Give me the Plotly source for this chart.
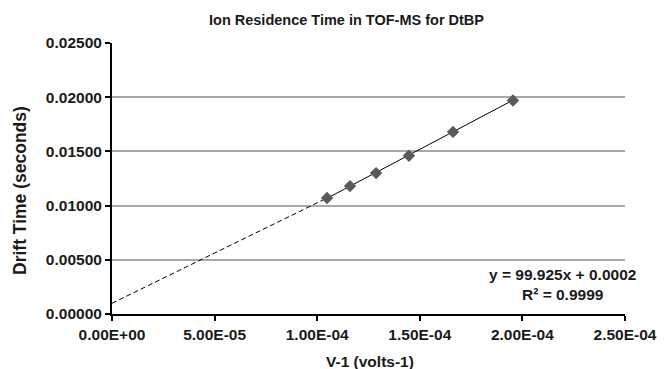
import plotly.graph_objects as go

# Data
inv_volts = [1.048e-4, 1.160e-4, 1.287e-4, 1.447e-4, 1.662e-4, 1.954e-4]
drift_time = [0.0107, 0.0118, 0.0130, 0.0146, 0.0168, 0.0197]

# Linear trendline (as stated on chart)
slope = 99.925
intercept = 0.0002

# Dashed extrapolation line endpoints
dash_x = [0.0, 1.048e-4]
dash_y = [0.00099, 0.0107]

x_tickvals = [0, 5e-5, 1e-4, 1.5e-4, 2e-4, 2.5e-4]
x_ticktext = ["0.00E+00", "5.00E-05", "1.00E-04", "1.50E-04", "2.00E-04", "2.50E-04"]
y_tickvals = [0, 0.005, 0.01, 0.015, 0.02, 0.025]
y_ticktext = ["0.00000", "0.00500", "0.01000", "0.01500", "0.02000", "0.02500"]

FONT = "Liberation Sans, Arial, sans-serif"
TXT = "#1a1a1a"

x0, x1 = min(inv_volts), max(inv_volts)
trend_x = [x0, x1]
trend_y = [slope * x0 + intercept, slope * x1 + intercept]

fig = go.Figure()
fig.add_trace(go.Scatter(x=dash_x, y=dash_y, mode="lines",
                         line=dict(color="black", width=1, dash="5px,3px"),
                         showlegend=False, hoverinfo="skip"))
fig.add_trace(go.Scatter(x=trend_x, y=trend_y, mode="lines",
                         line=dict(color="black", width=1),
                         showlegend=False, hoverinfo="skip"))
fig.add_trace(go.Scatter(x=inv_volts, y=drift_time, mode="markers",
                         marker=dict(symbol="diamond", size=9.5, color="#5a5a5a",
                                     line=dict(width=0)),
                         showlegend=False))

W, H = 672, 369
L, R, T, B = 112, 47, 43, 55
pw, ph = W - L - R, H - T - B

def px_x(px):
    return (px - L) / pw

def px_y(py):
    return (H - B - py) / ph

fig.update_layout(
    width=W, height=H,
    margin=dict(l=L, r=R, t=T, b=B, autoexpand=False),
    paper_bgcolor="white", plot_bgcolor="white",
    font=dict(family=FONT, color=TXT),
    title=dict(text="Ion Residence Time in TOF-MS for DtBP",
               font=dict(family=FONT, size=14.5, weight="bold", color=TXT),
               x=346.5 / W, xref="container", xanchor="center",
               y=1 - 20 / H, yref="container", yanchor="middle"),
    xaxis=dict(range=[0, 2.5e-4], tickvals=x_tickvals, ticktext=x_ticktext,
               showgrid=False, zeroline=False, showline=True,
               linecolor="black", linewidth=2,
               ticks="outside", ticklen=5, tickwidth=1.5, tickcolor="black",
               tickfont=dict(family=FONT, size=15.5, weight="bold", color=TXT)),
    yaxis=dict(range=[0, 0.025], tickvals=y_tickvals, ticktext=y_ticktext,
               showgrid=True, gridcolor="#a8a8a8", gridwidth=1.5,
               zeroline=False, showline=True,
               linecolor="black", linewidth=2,
               ticks="outside", ticklen=5, tickwidth=1.5, tickcolor="black",
               tickfont=dict(family=FONT, size=15.5, weight="bold", color=TXT)),
    annotations=[
        dict(text="V-1 (volts-1)", xref="paper", yref="paper",
             x=px_x(370), y=px_y(361), xanchor="center", yanchor="middle",
             showarrow=False,
             font=dict(family=FONT, size=15.5, weight="bold", color=TXT)),
        dict(text="Drift Time (seconds)", xref="paper", yref="paper",
             x=px_x(20), y=px_y(191), xanchor="center", yanchor="middle",
             textangle=-90, showarrow=False,
             font=dict(family=FONT, size=17.5, weight="bold", color=TXT)),
        dict(text="y = 99.925x + 0.0002<br>R² = 0.9999", xref="paper", yref="paper",
             x=px_x(562), y=px_y(284), xanchor="center", yanchor="middle",
             align="center", showarrow=False,
             font=dict(family=FONT, size=15.5, weight="bold", color=TXT)),
    ],
)

fig.write_html("out.html", config={"displayModeBar": False},
               post_script="document.body.style.margin='0';document.body.style.padding='0';")
